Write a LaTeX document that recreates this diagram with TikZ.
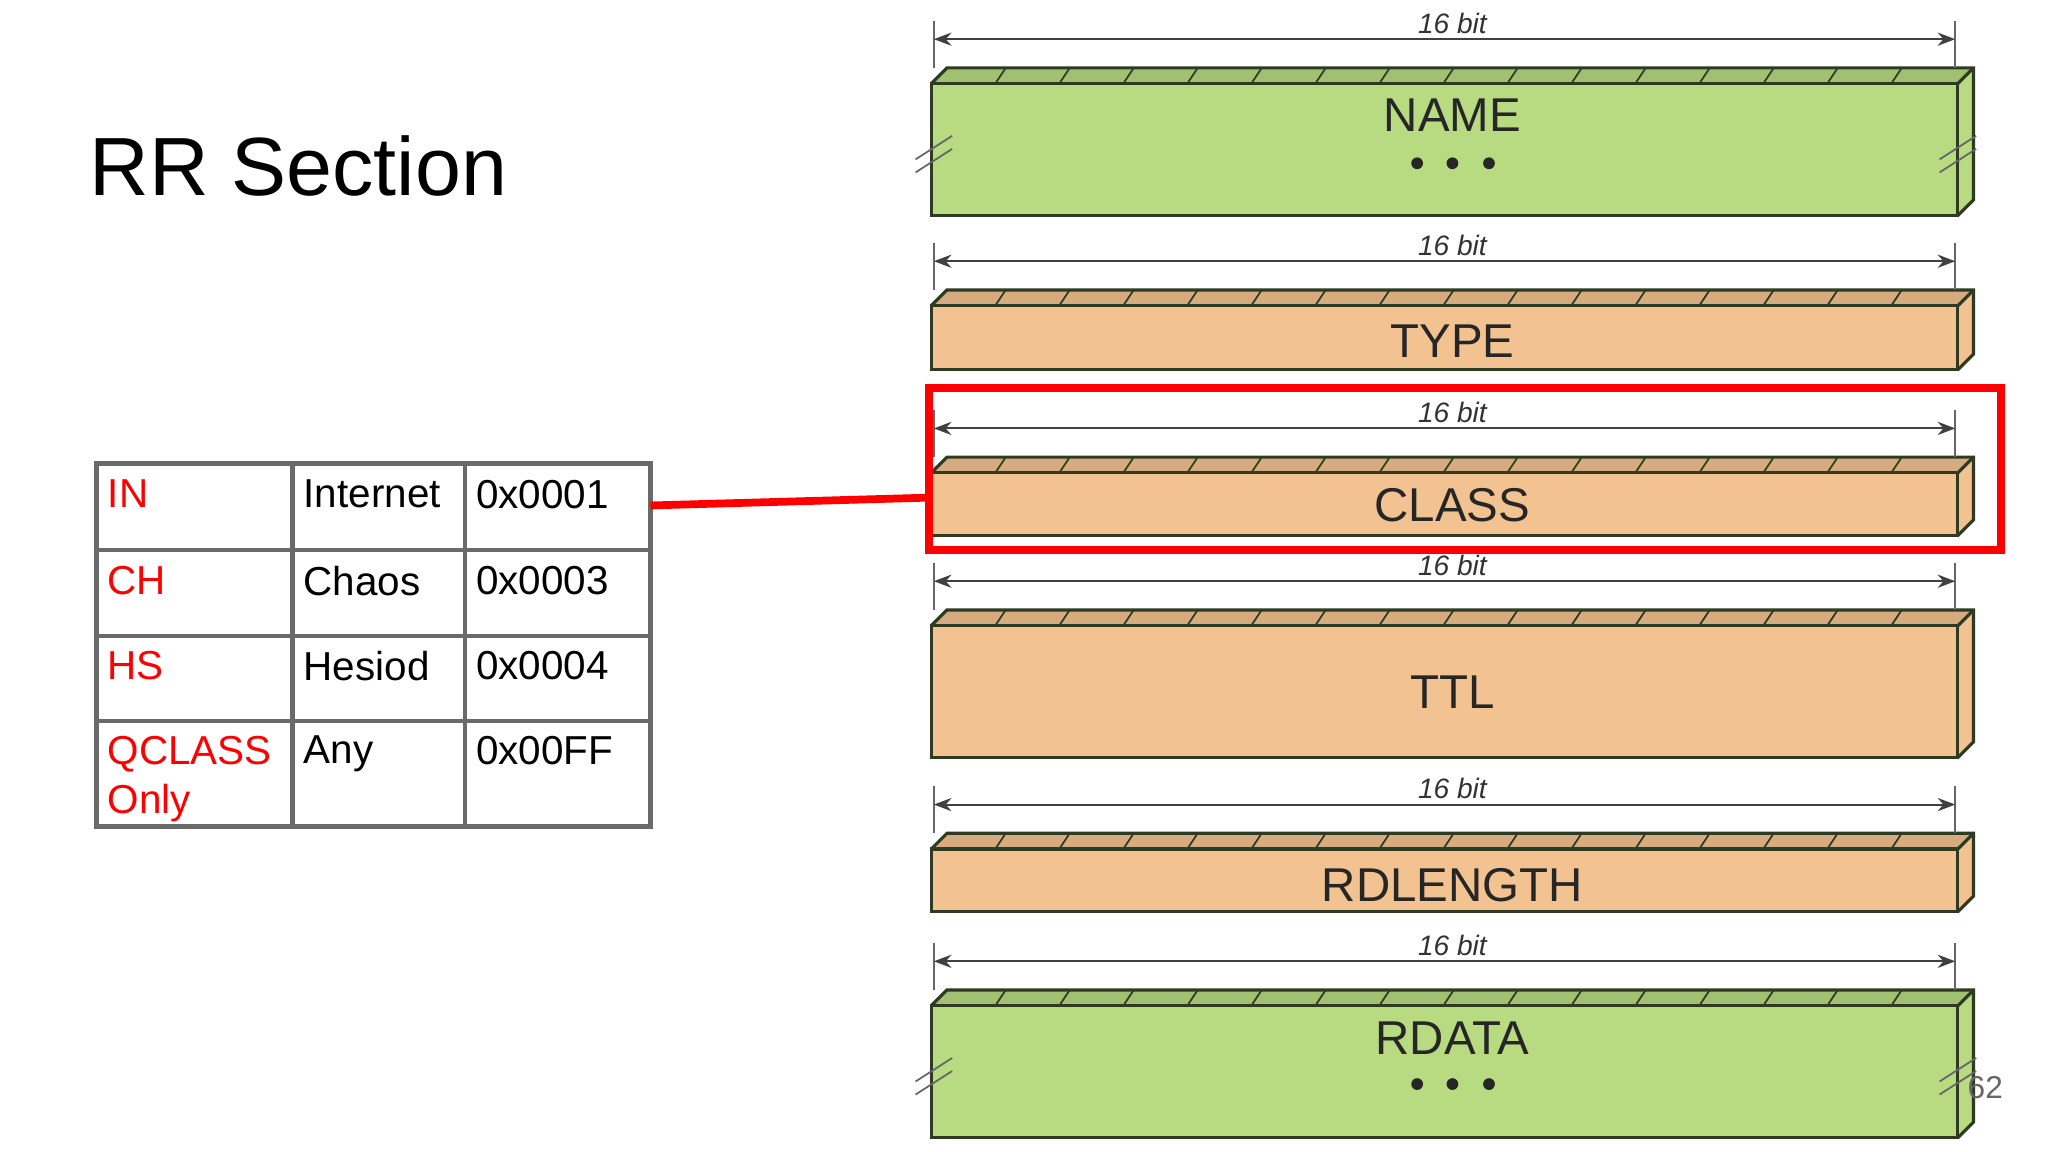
\documentclass[tikz,border=0pt]{standalone}
\usepackage{fontspec}
\setmainfont{Liberation Sans}
\usetikzlibrary{arrows.meta}
\definecolor{fgreen}{HTML}{B8DA80}
\definecolor{forange}{HTML}{F3C291}
\definecolor{boxedge}{HTML}{2E3A22}
\definecolor{tgrey}{HTML}{6A6A6A}
\tikzset{
  boxline/.style={draw=boxedge,line width=0.9pt},
  hatch/.style={draw=boxedge,line width=0.5pt},
  dimline/.style={draw=black!75,line width=0.6pt,{Stealth[length=5pt]}-{Stealth[length=5pt]}},
  brk/.style={draw=black!60,line width=0.5pt},
  flabel/.style={font=\fontsize{13.5}{16}\selectfont,text=black!85},
  bitlabel/.style={font=\fontsize{8}{9}\selectfont\itshape,text=black!80},
  cell/.style={anchor=north west,inner sep=0pt,font=\fontsize{11.5}{14}\selectfont,align=left},
  grid/.style={draw=tgrey,line width=1.3pt},
  hilite/.style={draw=red,line width=2.2pt,inner sep=0pt,minimum width=10.72cm,minimum height=1.62cm},
}
% #1 top of back edge, #2 bottom of front, #3 fill, #4 label y, #5 label
\newcommand\fieldbox[5]{%
  \fill[#3] (713,#1+12) -- (725,#1) -- (1511,#1) -- (1511,#2-12) -- (1499,#2) -- (713,#2) -- cycle;
  \fill[#3!88!black] (713,#1+12) -- (725,#1) -- (1511,#1) -- (1499,#1+12) -- cycle;
  \foreach \k in {1,...,15} \draw[hatch] (713+49*\k,#1+12) -- ++(8,-12);
  \draw[boxline] (713,#1+12) rectangle (1499,#2);
  \draw[boxline] (713,#1+12) -- (725,#1) -- (1511,#1) -- (1511,#2-12) -- (1499,#2);
  \draw[boxline] (1499,#1+12) -- (1511,#1);
  \draw[brk] (715,#1-36) -- (715,#1);
  \draw[brk] (1497,#1-36) -- (1497,#1);
  \draw[dimline] (715,#1-22) -- (1497,#1-22);
  \node[bitlabel] at (1112,#1-34) {16 bit};
  \node[flabel] at (1112,#4) {#5};
}
\begin{document}
\begin{tikzpicture}[x=0.01306cm,y=-0.01306cm]
\useasboundingbox (0,0) rectangle (1568,882);

\node[anchor=base west,inner sep=0pt,font=\fontsize{23.5}{28}\selectfont] (title) at (68,150) {RR Section};

% fields
\fieldbox{52}{165}{fgreen}{88}{NAME}
\fieldbox{222}{283}{forange}{261}{TYPE}
\fieldbox{350}{410}{forange}{387}{CLASS}
\fieldbox{467}{580}{forange}{530}{TTL}
\fieldbox{638}{698}{forange}{678}{RDLENGTH}
\fieldbox{758}{871}{fgreen}{795}{RDATA}

% dots
\foreach \yy in {125,830} \foreach \xx in {1085,1112,1140} \fill[black!85] (\xx,\yy) circle (4.5);

% break marks
\foreach \yy in {104,810} {
  \draw[brk] (701,\yy+18) -- (729,\yy);
  \draw[brk] (701,\yy+28) -- (729,\yy+10);
  \draw[brk] (1485,\yy+18) -- (1513,\yy);
  \draw[brk] (1485,\yy+28) -- (1513,\yy+10);
}

% table
\draw[grid] (74,355) rectangle (498,633);
\foreach \yy in {421,487,552} \draw[grid] (74,\yy) -- (498,\yy);
\foreach \xx in {224,356} \draw[grid] (\xx,355) -- (\xx,633);
\node[cell,text=red] (in) at (82,367) {IN};
\node[cell] at (232,367) {Internet};
\node[cell] at (364,367) {0x0001};
\node[cell,text=red] at (82,433) {CH};
\node[cell] at (232,433) {Chaos};
\node[cell] at (364,433) {0x0003};
\node[cell,text=red] at (82,498) {HS};
\node[cell] at (232,498) {Hesiod};
\node[cell] at (364,498) {0x0004};
\node[cell,text=red] at (82,563) {QCLASS\\Only};
\node[cell] at (232,563) {Any};
\node[cell] at (364,563) {0x00FF};

% highlight
\node[hilite] (hl) at (1121.5,359) {};
\coordinate (tabR) at (498,387);
\coordinate (hlL) at (711,381);
\draw[red,line width=2.2pt] (tabR) -- (hlL);

\node[font=\fontsize{9}{11}\selectfont,text=black!60] (pg) at (1520,833) {62};
\end{tikzpicture}
\end{document}
